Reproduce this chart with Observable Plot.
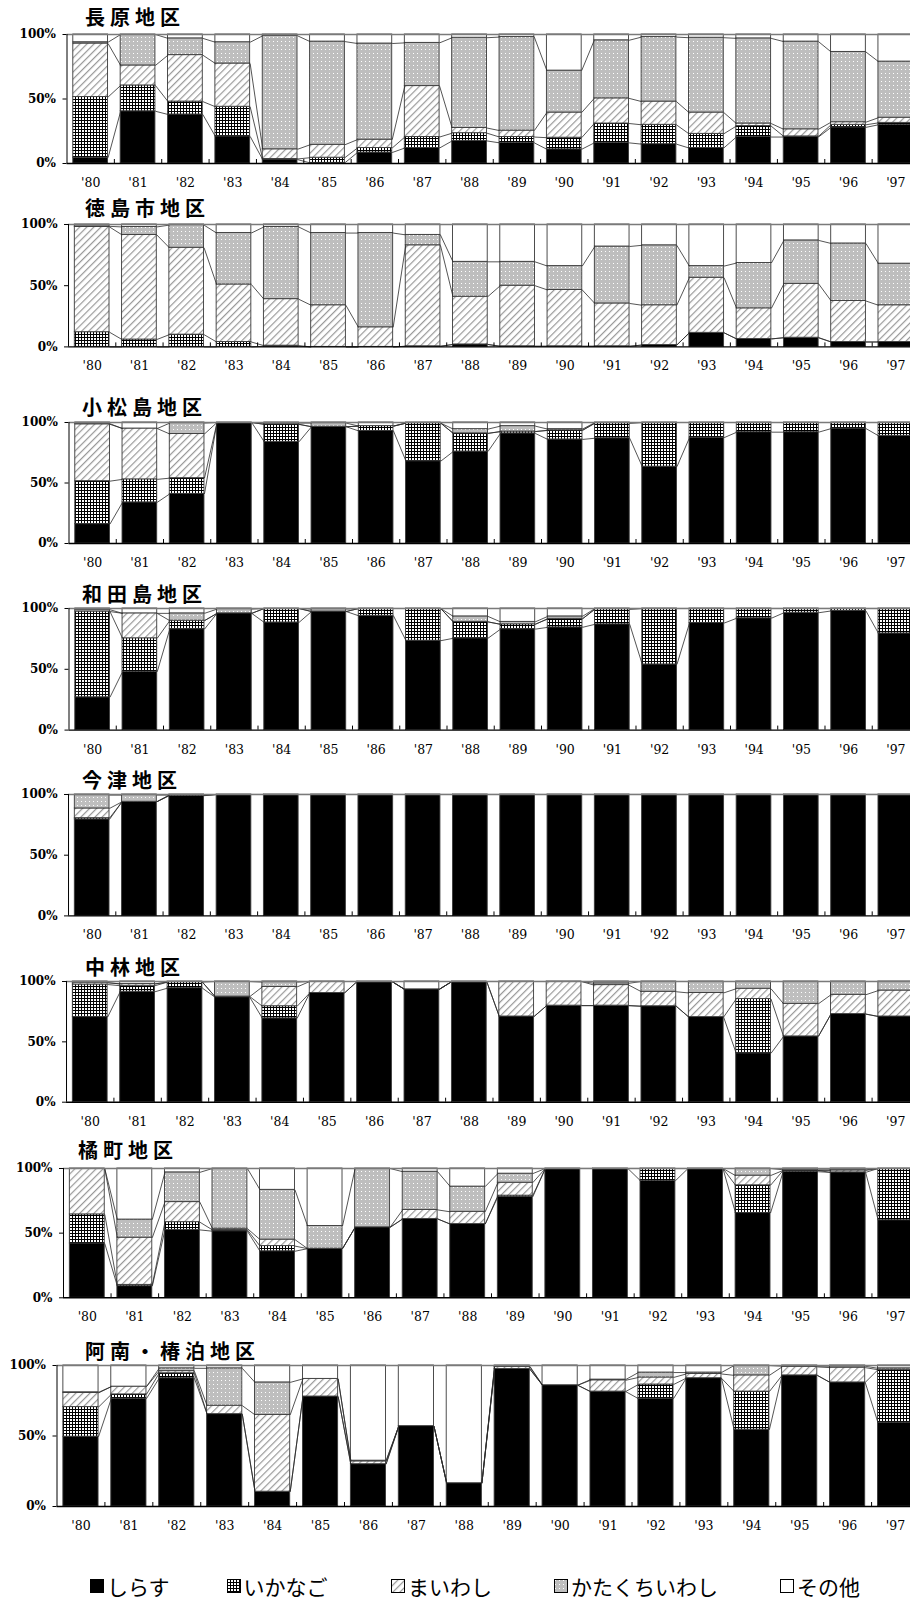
<!DOCTYPE html>
<html>
<head>
<meta charset="utf-8">
<script src="https://cdn.jsdelivr.net/npm/d3@7"></script>
<script src="https://cdn.jsdelivr.net/npm/@observablehq/plot@0.6"></script>
<style>
html, body { margin: 0; padding: 0; background: #fff; }
body { width: 910px; height: 1600px; overflow: hidden; position: relative; }
#root { position: relative; width: 910px; height: 1600px; }
.panel { position: absolute; left: 0; width: 930px; }
.panel svg { max-width: none !important; }
.title { position: absolute; font-family: "Noto Sans CJK JP", sans-serif; font-weight: 700; font-size: 20px;
  letter-spacing: 5px; line-height: 24px; white-space: nowrap; color: #000; }
svg [aria-label^="y-axis"] text { font-weight: bold; }
.legend-item { position: absolute; display: flex; align-items: center; white-space: nowrap;
  font-family: "Noto Sans CJK JP", sans-serif; font-size: 21px; line-height: 26px; color: #000; }
.legend-item svg { margin-right: 3px; }
</style>
</head>
<body>
<svg width="0" height="0" style="position:absolute;left:0;top:0">
  <defs>
    <pattern id="pGrid" width="3" height="3" patternUnits="userSpaceOnUse">
      <rect width="3" height="3" fill="#fff"/>
      <rect width="3" height="1" fill="#000"/>
      <rect width="1" height="3" fill="#000"/>
    </pattern>
    <pattern id="pHatch" width="5" height="5" patternUnits="userSpaceOnUse" patternTransform="rotate(45)">
      <rect width="5" height="5" fill="#fff"/>
      <rect width="1.2" height="5" fill="#999"/>
    </pattern>
    <pattern id="pDots" width="4" height="4" patternUnits="userSpaceOnUse">
      <rect width="4" height="4" fill="#bebebe"/>
      <rect x="1" y="1" width="1" height="1" fill="#fff"/>
    </pattern>
  </defs>
</svg>
<div id="root"></div>
<script>
// ---------- data ----------
const years = ["'80","'81","'82","'83","'84","'85","'86","'87","'88","'89","'90","'91","'92","'93","'94","'95","'96","'97"];
const categories = ["しらす", "いかなご", "まいわし", "かたくちいわし", "その他"];

// each row: [しらす, いかなご, まいわし, かたくちいわし, その他] (%), one row per year
const nagahara = [
  [4.5,47,41.5,1,6],[40.5,20,15.5,24,0],[38,10,36,13,3],[21,23,33.5,16.5,6],[3,0.5,7.5,88,1],
  [0.5,4,10,80,5.5],[8.5,3.5,6.5,74.5,7],[12,8.5,39.5,33.5,6.5],[17.5,6,4,70,2.5],[16,4.5,5,72.5,2],
  [11,9,19.5,32.5,28],[16,15,19.5,45,4.5],[15,15,18,50,2],[12,11,16.5,58,2.5],[20.5,8.5,2,66,3],
  [20.5,0.5,5.5,68,5.5],[28,2,2,54.5,13.5],[30,1.5,4,43.5,21]
];
const tokushima = [
  [0,12,86,0.5,1.5],[0,6,85.5,6.5,2],[0,10,71,18.5,0.5],[0,4,47,42,7],[0.5,0.5,38,59,2],
  [0,0,34,59,7],[0,0,16,77,7],[0.5,0,82.5,8.5,8.5],[2,0,39,28.5,30.5],[0.5,0,49.5,19.5,30.5],
  [0.5,0,46,19.5,34],[0.5,0,35,46.5,18],[1.5,0,32.5,49,17],[11.5,0,45,9.5,34],[6.5,0,25,37,31.5],
  [7.5,0,44,35.5,13],[4,0,33.5,47,15.5],[4,0,30,34,32]
];
const komatsushima = [
  [16,35.5,47,0.5,1],[34,19,42,0,5],[41,13,36.5,9,0.5],[100,0,0,0,0],[84,14.5,0,1,0.5],
  [96.5,0,0,3,0.5],[93,4,0,0,3],[68,31.5,0,0,0.5],[76,15,0,3.5,5.5],[91,1.5,0,4.5,3],
  [86,7.5,0,1,5.5],[87,12.5,0,0.5,0],[63.5,36.5,0,0,0],[87.5,12.5,0,0,0],[92,8,0,0,0],
  [92,8,0,0,0],[95,5,0,0,0],[89,11,0,0,0]
];
const wadajima = [
  [27,70.5,0,1.5,1],[48,27.5,20.5,0,4],[83,7,0,6,4],[96,0,0,3.5,0.5],[88.5,11.5,0,0,0],
  [97.5,0,0,2,0.5],[94,6,0,0,0],[73.5,26.5,0,0,0],[75.5,13.5,0,4.5,6.5],[83,4,0,2,11],
  [84.5,7,0,2,6.5],[87,12.5,0,0.5,0],[54,46,0,0,0],[88,12,0,0,0],[92,8,0,0,0],
  [96.5,3.5,0,0,0],[98,2,0,0,0],[79.5,20.5,0,0,0]
];
const imazu = [
  [79.5,1,8,11,0.5],[94,0,0,5.5,0.5],[99,0.5,0,0,0.5],[100,0,0,0,0],[100,0,0,0,0],
  [100,0,0,0,0],[100,0,0,0,0],[100,0,0,0,0],[100,0,0,0,0],[100,0,0,0,0],
  [100,0,0,0,0],[100,0,0,0,0],[100,0,0,0,0],[100,0,0,0,0],[100,0,0,0,0],
  [100,0,0,0,0],[100,0,0,0,0],[100,0,0,0,0]
];
const nakabayashi = [
  [70.5,27,1.5,0,1],[91.5,5,1.5,0,2],[94.5,5,0,0,0.5],[87,0.5,0,12.5,0],[69.5,10,16,4,0.5],
  [90.5,0,9.5,0,0],[100,0,0,0,0],[93.5,0,0,0,6.5],[100,0,0,0,0],[71,0,29,0,0],
  [80,0,20,0,0],[80,0,17,1.5,1.5],[79.5,0,12,8.5,0],[70.5,0,20,9.5,0],[40.5,45,8.5,6,0],
  [54.5,0,27,18.5,0],[73,0,16,11,0],[71,0,21.5,7.5,0]
];
const tachibana = [
  [42,22.5,35.5,0,0],[9,1,36.5,14,39.5],[52.5,6,15.5,23,3],[51.5,1,1,46.5,0],[36,4,5,38.5,16.5],
  [38,0,0,17.5,44.5],[54.5,0,0,45.5,0],[61,0,7,29.5,2.5],[57,0,9.5,19.5,14],[78,1,10,7,4],
  [100,0,0,0,0],[100,0,0,0,0],[90.5,9.5,0,0,0],[100,0,0,0,0],[65.5,21.5,7.5,5.5,0],
  [97.5,1,0,0.5,1],[97,0,1.5,0.5,1],[60,40,0,0,0]
];
const anan = [
  [49.5,21,10,0.5,19],[76.5,3,5.5,0,15],[91,3.5,1.5,2,2],[65.5,0,6,26.5,2],[10.5,0,54.5,23,12],
  [78,0,12.5,0,9.5],[30,0,2,0.5,67.5],[57,0,0,0,43],[16.5,0,0,0,83.5],[97.5,0,1.5,0.5,0.5],
  [86,0,0,0,14],[81.5,0,8,0.5,10],[76.5,10,5,3.5,5],[91,0,3,1,5],[54.5,27,11.5,7,0],
  [93,0,6,0.5,0.5],[88,0,10.5,1,0.5],[59.5,37.5,0,1,2]
];

// ---------- layout / style ----------
const panels = [
  {name: "長原地区",       data: nagahara,     left: 66.5, top: 34.3,   bottom: 163.3,  tx: 85, ty: 16.7},
  {name: "徳島市地区",     data: tokushima,    left: 68,   top: 224.3,  bottom: 346.7,  tx: 85, ty: 208},
  {name: "小松島地区",     data: komatsushima, left: 68.5, top: 422.3,  bottom: 543.3,  tx: 82, ty: 407},
  {name: "和田島地区",     data: wadajima,     left: 68.5, top: 607.7,  bottom: 729.3,  tx: 82, ty: 594},
  {name: "今津地区",       data: imazu,        left: 68,   top: 794.3,  bottom: 915.7,  tx: 82, ty: 780},
  {name: "中林地区",       data: nakabayashi,  left: 66,   top: 981,    bottom: 1101.7, tx: 85, ty: 966.7},
  {name: "橘町地区",       data: tachibana,    left: 63,   top: 1168,   bottom: 1297.3, tx: 78, ty: 1150},
  {name: "阿南・椿泊地区", data: anan,         left: 56.5, top: 1364.7, bottom: 1505.7, tx: 85, ty: 1351}
];
const fills = ["#000", "url(#pGrid)", "url(#pHatch)", "url(#pDots)", "#fff"];
const legendX = [90, 226.5, 391, 554, 780];
const RIGHT = 919, SVGW = 930, MT = 10, MB = 32, HW = 0.367;

const root = document.getElementById("root");
const yearRows = years.map((label, i) => ({label, i}));
const boundaries = years.slice(1).map((_, i) => i + 0.5);

panels.forEach(p => {
  const h = p.bottom - p.top;
  const cums = p.data.map(r => {
    const s = d3.sum(r);
    let c = 0;
    return r.map(v => (c += v / s * 100));
  });
  const segs = [];
  p.data.forEach((r, i) => {
    r.forEach((v, k) => {
      if (v > 0) segs.push({i, k, y1: k === 0 ? 0 : cums[i][k - 1], y2: cums[i][k]});
    });
  });
  const links = [];
  for (let k = 0; k < categories.length; k++) {
    for (let i = 0; i < years.length - 1; i++) {
      links.push({x1: i + HW, x2: i + 1 - HW, y1: cums[i][k], y2: cums[i + 1][k]});
    }
  }
  const tickLen = 4 / h * 100;

  const marks = [];
  categories.forEach((c, k) => {
    marks.push(Plot.rect(segs.filter(d => d.k === k), {
      x1: d => d.i - HW, x2: d => d.i + HW, y1: "y1", y2: "y2",
      fill: fills[k], stroke: "#3a3a3a", strokeWidth: 0.9
    }));
  });
  marks.push(
    Plot.link(links, {x1: "x1", x2: "x2", y1: "y1", y2: "y2", stroke: "#2a2a2a", strokeWidth: 0.8}),
    Plot.ruleY([100], {stroke: "#7a7a7a", strokeWidth: 1.4}),
    Plot.ruleY([0], {stroke: "#000", strokeWidth: 1.4}),
    Plot.ruleX([-0.5], {stroke: "#000", strokeWidth: 1}),
    Plot.ruleX(boundaries, {x: d => d, y1: 0, y2: tickLen, stroke: "#000", strokeWidth: 1}),
    Plot.text(yearRows, {x: "i", y: 0, dy: 19.5, text: "label", fontSize: 12.5,
      fontFamily: "'DejaVu Serif', serif", fill: "#000"})
  );

  const svg = Plot.plot({
    width: SVGW,
    height: h + MT + MB,
    marginTop: MT,
    marginBottom: MB,
    marginLeft: p.left,
    marginRight: SVGW - RIGHT,
    x: {domain: [-0.5, years.length - 0.5], axis: null},
    y: {domain: [0, 100], ticks: 2, tickFormat: d => d + "%", tickSize: 4, tickPadding: 7, label: null},
    style: {fontFamily: "'DejaVu Serif', serif", fontSize: "12px", background: "transparent", maxWidth: "none", color: "#000"},
    marks
  });
  const wrap = document.createElement("div");
  wrap.className = "panel";
  wrap.style.top = (p.top - MT) + "px";
  wrap.appendChild(svg);
  root.appendChild(wrap);

  const t = document.createElement("div");
  t.className = "title";
  t.textContent = p.name;
  t.style.left = p.tx + "px";
  t.style.top = (p.ty - 12) + "px";
  root.appendChild(t);
});

// legend
categories.forEach((c, k) => {
  const item = document.createElement("div");
  item.className = "legend-item";
  item.style.left = legendX[k] + "px";
  item.style.top = "1573px";
  item.innerHTML = `<svg width="14" height="14"><rect x="0.5" y="0.5" width="13" height="13" fill="${fills[k]}" stroke="#000" stroke-width="1"/></svg><span>${c}</span>`;
  root.appendChild(item);
});
</script>
</body>
</html>
